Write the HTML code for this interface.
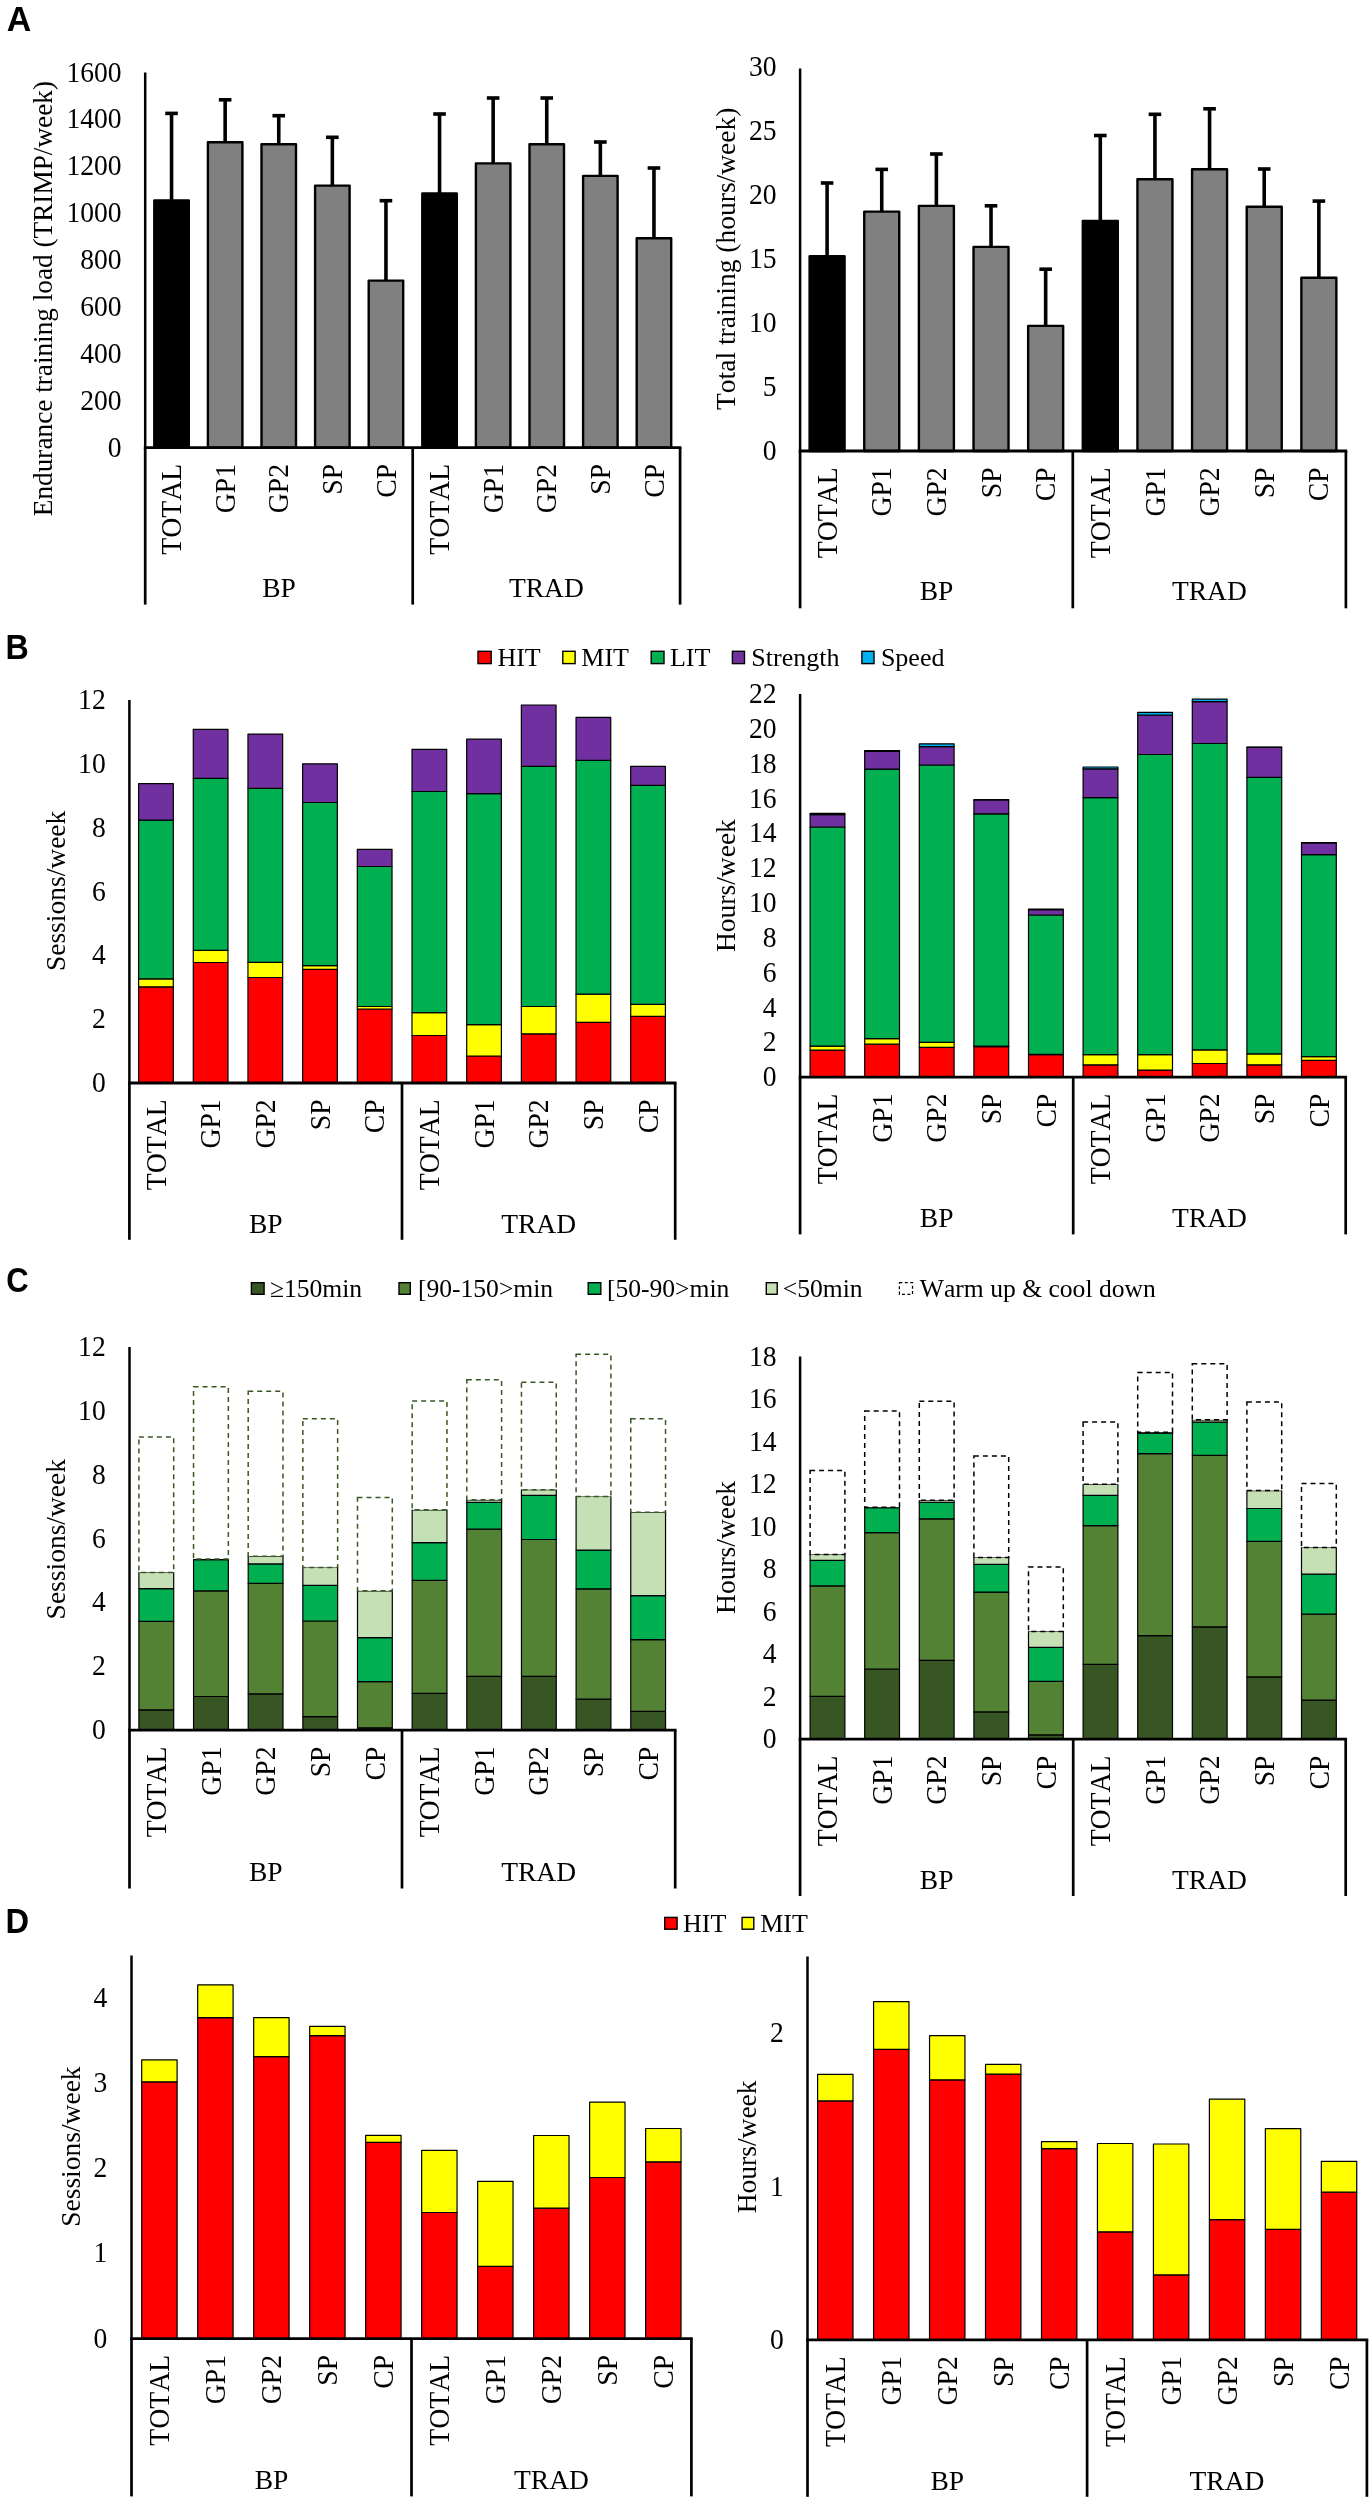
<!DOCTYPE html><html><head><meta charset="utf-8"><title>Figure</title>
<style>html,body{margin:0;padding:0;background:#fff;}svg{display:block;will-change:transform;}.t{font-family:"Liberation Serif",serif;font-size:27.5px;font-kerning:none;fill:#000;}text{font-family:"Liberation Serif",serif;font-kerning:none;fill:#000;}.pl{font-family:"Liberation Sans",sans-serif;font-weight:bold;font-size:34.3px;}</style></head><body>
<svg width="1371" height="2500" viewBox="0 0 1371 2500">
<rect width="1371" height="2500" fill="#fff"/>
<text transform="translate(6.8,30.6) scale(0.99,1)" class="pl">A</text>
<text transform="translate(5.5,658.7) scale(0.938,1)" class="pl">B</text>
<text transform="translate(6.3,1292.3) scale(0.904,1)" class="pl">C</text>
<text transform="translate(5.5,1932.6) scale(0.952,1)" class="pl">D</text>
<line x1="171.55" y1="113.4" x2="171.55" y2="200.5" stroke="#000" stroke-width="3.6"/>
<line x1="165.25" y1="113.4" x2="177.85" y2="113.4" stroke="#000" stroke-width="3.6"/>
<rect x="154.3" y="200.5" width="34.5" height="247.1" fill="#000" stroke="#000" stroke-width="2.4" stroke-linejoin="round"/>
<line x1="225.15" y1="99.8" x2="225.15" y2="142.3" stroke="#000" stroke-width="3.6"/>
<line x1="218.85" y1="99.8" x2="231.45" y2="99.8" stroke="#000" stroke-width="3.6"/>
<rect x="207.9" y="142.3" width="34.5" height="305.3" fill="#808080" stroke="#000" stroke-width="2.4" stroke-linejoin="round"/>
<line x1="278.75" y1="115.7" x2="278.75" y2="144.3" stroke="#000" stroke-width="3.6"/>
<line x1="272.45" y1="115.7" x2="285.05" y2="115.7" stroke="#000" stroke-width="3.6"/>
<rect x="261.5" y="144.3" width="34.5" height="303.3" fill="#808080" stroke="#000" stroke-width="2.4" stroke-linejoin="round"/>
<line x1="332.35" y1="137.3" x2="332.35" y2="185.6" stroke="#000" stroke-width="3.6"/>
<line x1="326.05" y1="137.3" x2="338.65" y2="137.3" stroke="#000" stroke-width="3.6"/>
<rect x="315.1" y="185.6" width="34.5" height="262" fill="#808080" stroke="#000" stroke-width="2.4" stroke-linejoin="round"/>
<line x1="385.95" y1="200.7" x2="385.95" y2="280.6" stroke="#000" stroke-width="3.6"/>
<line x1="379.65" y1="200.7" x2="392.25" y2="200.7" stroke="#000" stroke-width="3.6"/>
<rect x="368.7" y="280.6" width="34.5" height="167" fill="#808080" stroke="#000" stroke-width="2.4" stroke-linejoin="round"/>
<line x1="439.55" y1="114" x2="439.55" y2="193.4" stroke="#000" stroke-width="3.6"/>
<line x1="433.25" y1="114" x2="445.85" y2="114" stroke="#000" stroke-width="3.6"/>
<rect x="422.3" y="193.4" width="34.5" height="254.2" fill="#000" stroke="#000" stroke-width="2.4" stroke-linejoin="round"/>
<line x1="493.15" y1="98" x2="493.15" y2="163.4" stroke="#000" stroke-width="3.6"/>
<line x1="486.85" y1="98" x2="499.45" y2="98" stroke="#000" stroke-width="3.6"/>
<rect x="475.9" y="163.4" width="34.5" height="284.2" fill="#808080" stroke="#000" stroke-width="2.4" stroke-linejoin="round"/>
<line x1="546.75" y1="98" x2="546.75" y2="144.2" stroke="#000" stroke-width="3.6"/>
<line x1="540.45" y1="98" x2="553.05" y2="98" stroke="#000" stroke-width="3.6"/>
<rect x="529.5" y="144.2" width="34.5" height="303.4" fill="#808080" stroke="#000" stroke-width="2.4" stroke-linejoin="round"/>
<line x1="600.35" y1="142" x2="600.35" y2="175.9" stroke="#000" stroke-width="3.6"/>
<line x1="594.05" y1="142" x2="606.65" y2="142" stroke="#000" stroke-width="3.6"/>
<rect x="583.1" y="175.9" width="34.5" height="271.7" fill="#808080" stroke="#000" stroke-width="2.4" stroke-linejoin="round"/>
<line x1="653.95" y1="168" x2="653.95" y2="238.2" stroke="#000" stroke-width="3.6"/>
<line x1="647.65" y1="168" x2="660.25" y2="168" stroke="#000" stroke-width="3.6"/>
<rect x="636.7" y="238.2" width="34.5" height="209.4" fill="#808080" stroke="#000" stroke-width="2.4" stroke-linejoin="round"/>
<line x1="827.1" y1="183" x2="827.1" y2="256.3" stroke="#000" stroke-width="3.6"/>
<line x1="820.8" y1="183" x2="833.4" y2="183" stroke="#000" stroke-width="3.6"/>
<rect x="809.6" y="256.3" width="35" height="194.7" fill="#000" stroke="#000" stroke-width="2.4" stroke-linejoin="round"/>
<line x1="881.74" y1="169.4" x2="881.74" y2="211.6" stroke="#000" stroke-width="3.6"/>
<line x1="875.44" y1="169.4" x2="888.04" y2="169.4" stroke="#000" stroke-width="3.6"/>
<rect x="864.24" y="211.6" width="35" height="239.4" fill="#808080" stroke="#000" stroke-width="2.4" stroke-linejoin="round"/>
<line x1="936.38" y1="154" x2="936.38" y2="205.9" stroke="#000" stroke-width="3.6"/>
<line x1="930.08" y1="154" x2="942.68" y2="154" stroke="#000" stroke-width="3.6"/>
<rect x="918.88" y="205.9" width="35" height="245.1" fill="#808080" stroke="#000" stroke-width="2.4" stroke-linejoin="round"/>
<line x1="991.02" y1="205.8" x2="991.02" y2="246.9" stroke="#000" stroke-width="3.6"/>
<line x1="984.72" y1="205.8" x2="997.32" y2="205.8" stroke="#000" stroke-width="3.6"/>
<rect x="973.52" y="246.9" width="35" height="204.1" fill="#808080" stroke="#000" stroke-width="2.4" stroke-linejoin="round"/>
<line x1="1045.66" y1="269.2" x2="1045.66" y2="325.9" stroke="#000" stroke-width="3.6"/>
<line x1="1039.36" y1="269.2" x2="1051.96" y2="269.2" stroke="#000" stroke-width="3.6"/>
<rect x="1028.16" y="325.9" width="35" height="125.1" fill="#808080" stroke="#000" stroke-width="2.4" stroke-linejoin="round"/>
<line x1="1100.3" y1="135.5" x2="1100.3" y2="220.9" stroke="#000" stroke-width="3.6"/>
<line x1="1094" y1="135.5" x2="1106.6" y2="135.5" stroke="#000" stroke-width="3.6"/>
<rect x="1082.8" y="220.9" width="35" height="230.1" fill="#000" stroke="#000" stroke-width="2.4" stroke-linejoin="round"/>
<line x1="1154.94" y1="114.3" x2="1154.94" y2="179.2" stroke="#000" stroke-width="3.6"/>
<line x1="1148.64" y1="114.3" x2="1161.24" y2="114.3" stroke="#000" stroke-width="3.6"/>
<rect x="1137.44" y="179.2" width="35" height="271.8" fill="#808080" stroke="#000" stroke-width="2.4" stroke-linejoin="round"/>
<line x1="1209.58" y1="108.8" x2="1209.58" y2="169.2" stroke="#000" stroke-width="3.6"/>
<line x1="1203.28" y1="108.8" x2="1215.88" y2="108.8" stroke="#000" stroke-width="3.6"/>
<rect x="1192.08" y="169.2" width="35" height="281.8" fill="#808080" stroke="#000" stroke-width="2.4" stroke-linejoin="round"/>
<line x1="1264.22" y1="169" x2="1264.22" y2="206.8" stroke="#000" stroke-width="3.6"/>
<line x1="1257.92" y1="169" x2="1270.52" y2="169" stroke="#000" stroke-width="3.6"/>
<rect x="1246.72" y="206.8" width="35" height="244.2" fill="#808080" stroke="#000" stroke-width="2.4" stroke-linejoin="round"/>
<line x1="1318.86" y1="201.1" x2="1318.86" y2="277.8" stroke="#000" stroke-width="3.6"/>
<line x1="1312.56" y1="201.1" x2="1325.16" y2="201.1" stroke="#000" stroke-width="3.6"/>
<rect x="1301.36" y="277.8" width="35" height="173.2" fill="#808080" stroke="#000" stroke-width="2.4" stroke-linejoin="round"/>
<line x1="145.2" y1="72.5" x2="145.2" y2="447.6" stroke="#000" stroke-width="2.5"/>
<text transform="translate(121.6,456.6) scale(0.955,1)" text-anchor="end" class="t" style="font-size:28.9px">0</text>
<text transform="translate(121.6,409.71) scale(0.955,1)" text-anchor="end" class="t" style="font-size:28.9px">200</text>
<text transform="translate(121.6,362.83) scale(0.955,1)" text-anchor="end" class="t" style="font-size:28.9px">400</text>
<text transform="translate(121.6,315.94) scale(0.955,1)" text-anchor="end" class="t" style="font-size:28.9px">600</text>
<text transform="translate(121.6,269.05) scale(0.955,1)" text-anchor="end" class="t" style="font-size:28.9px">800</text>
<text transform="translate(121.6,222.16) scale(0.955,1)" text-anchor="end" class="t" style="font-size:28.9px">1000</text>
<text transform="translate(121.6,175.27) scale(0.955,1)" text-anchor="end" class="t" style="font-size:28.9px">1200</text>
<text transform="translate(121.6,128.39) scale(0.955,1)" text-anchor="end" class="t" style="font-size:28.9px">1400</text>
<text transform="translate(121.6,81.5) scale(0.955,1)" text-anchor="end" class="t" style="font-size:28.9px">1600</text>
<text transform="translate(52.2,298.6) rotate(-90)" text-anchor="middle" class="t" style="font-size:27.25px">Endurance training load (TRIMP/week)</text>
<line x1="143.85" y1="447.6" x2="681.45" y2="447.6" stroke="#000" stroke-width="2.8"/>
<line x1="145.2" y1="447.6" x2="145.2" y2="604.6" stroke="#000" stroke-width="2.7"/>
<line x1="412.7" y1="447.6" x2="412.7" y2="604.6" stroke="#000" stroke-width="2.7"/>
<line x1="680.1" y1="447.6" x2="680.1" y2="604.6" stroke="#000" stroke-width="2.7"/>
<text transform="translate(181.15,463.9) rotate(-90) scale(0.97,1)" text-anchor="end" class="t" style="font-size:28.6px">TOTAL</text>
<text transform="translate(234.75,463.9) rotate(-90) scale(0.97,1)" text-anchor="end" class="t" style="font-size:28.6px">GP1</text>
<text transform="translate(288.35,463.9) rotate(-90) scale(0.97,1)" text-anchor="end" class="t" style="font-size:28.6px">GP2</text>
<text transform="translate(341.95,463.9) rotate(-90) scale(0.97,1)" text-anchor="end" class="t" style="font-size:28.6px">SP</text>
<text transform="translate(395.55,463.9) rotate(-90) scale(0.97,1)" text-anchor="end" class="t" style="font-size:28.6px">CP</text>
<text transform="translate(449.15,463.9) rotate(-90) scale(0.97,1)" text-anchor="end" class="t" style="font-size:28.6px">TOTAL</text>
<text transform="translate(502.75,463.9) rotate(-90) scale(0.97,1)" text-anchor="end" class="t" style="font-size:28.6px">GP1</text>
<text transform="translate(556.35,463.9) rotate(-90) scale(0.97,1)" text-anchor="end" class="t" style="font-size:28.6px">GP2</text>
<text transform="translate(609.95,463.9) rotate(-90) scale(0.97,1)" text-anchor="end" class="t" style="font-size:28.6px">SP</text>
<text transform="translate(663.55,463.9) rotate(-90) scale(0.97,1)" text-anchor="end" class="t" style="font-size:28.6px">CP</text>
<text x="278.95" y="597" text-anchor="middle" class="t">BP</text>
<text x="546.4" y="597" text-anchor="middle" class="t">TRAD</text>
<line x1="800.1" y1="68.5" x2="800.1" y2="451" stroke="#000" stroke-width="2.5"/>
<text transform="translate(776.5,460) scale(0.955,1)" text-anchor="end" class="t" style="font-size:28.9px">0</text>
<text transform="translate(776.5,396) scale(0.955,1)" text-anchor="end" class="t" style="font-size:28.9px">5</text>
<text transform="translate(776.5,332) scale(0.955,1)" text-anchor="end" class="t" style="font-size:28.9px">10</text>
<text transform="translate(776.5,268) scale(0.955,1)" text-anchor="end" class="t" style="font-size:28.9px">15</text>
<text transform="translate(776.5,204) scale(0.955,1)" text-anchor="end" class="t" style="font-size:28.9px">20</text>
<text transform="translate(776.5,140) scale(0.955,1)" text-anchor="end" class="t" style="font-size:28.9px">25</text>
<text transform="translate(776.5,76) scale(0.955,1)" text-anchor="end" class="t" style="font-size:28.9px">30</text>
<text transform="translate(734.6,258.8) rotate(-90)" text-anchor="middle" class="t" style="font-size:27.5px">Total training (hours/week)</text>
<line x1="798.75" y1="451" x2="1347.25" y2="451" stroke="#000" stroke-width="2.8"/>
<line x1="800.1" y1="451" x2="800.1" y2="608.3" stroke="#000" stroke-width="2.7"/>
<line x1="1072.8" y1="451" x2="1072.8" y2="608.3" stroke="#000" stroke-width="2.7"/>
<line x1="1345.9" y1="451" x2="1345.9" y2="608.3" stroke="#000" stroke-width="2.7"/>
<text transform="translate(836.7,467.3) rotate(-90) scale(0.97,1)" text-anchor="end" class="t" style="font-size:28.6px">TOTAL</text>
<text transform="translate(891.34,467.3) rotate(-90) scale(0.97,1)" text-anchor="end" class="t" style="font-size:28.6px">GP1</text>
<text transform="translate(945.98,467.3) rotate(-90) scale(0.97,1)" text-anchor="end" class="t" style="font-size:28.6px">GP2</text>
<text transform="translate(1000.62,467.3) rotate(-90) scale(0.97,1)" text-anchor="end" class="t" style="font-size:28.6px">SP</text>
<text transform="translate(1055.26,467.3) rotate(-90) scale(0.97,1)" text-anchor="end" class="t" style="font-size:28.6px">CP</text>
<text transform="translate(1109.9,467.3) rotate(-90) scale(0.97,1)" text-anchor="end" class="t" style="font-size:28.6px">TOTAL</text>
<text transform="translate(1164.54,467.3) rotate(-90) scale(0.97,1)" text-anchor="end" class="t" style="font-size:28.6px">GP1</text>
<text transform="translate(1219.18,467.3) rotate(-90) scale(0.97,1)" text-anchor="end" class="t" style="font-size:28.6px">GP2</text>
<text transform="translate(1273.82,467.3) rotate(-90) scale(0.97,1)" text-anchor="end" class="t" style="font-size:28.6px">SP</text>
<text transform="translate(1328.46,467.3) rotate(-90) scale(0.97,1)" text-anchor="end" class="t" style="font-size:28.6px">CP</text>
<text x="936.45" y="600.2" text-anchor="middle" class="t">BP</text>
<text x="1209.35" y="600.2" text-anchor="middle" class="t">TRAD</text>
<rect x="138.6" y="986.8" width="34.7" height="96.2" fill="#FF0000" stroke="#000" stroke-width="1.2" stroke-linejoin="round"/>
<rect x="138.6" y="978.8" width="34.7" height="8" fill="#FFFF00" stroke="#000" stroke-width="1.2" stroke-linejoin="round"/>
<rect x="138.6" y="820.2" width="34.7" height="158.6" fill="#00B050" stroke="#000" stroke-width="1.2" stroke-linejoin="round"/>
<rect x="138.6" y="783.6" width="34.7" height="36.6" fill="#7030A0" stroke="#000" stroke-width="1.2" stroke-linejoin="round"/>
<rect x="193.28" y="962.5" width="34.7" height="120.5" fill="#FF0000" stroke="#000" stroke-width="1.2" stroke-linejoin="round"/>
<rect x="193.28" y="950.4" width="34.7" height="12.1" fill="#FFFF00" stroke="#000" stroke-width="1.2" stroke-linejoin="round"/>
<rect x="193.28" y="778.4" width="34.7" height="172" fill="#00B050" stroke="#000" stroke-width="1.2" stroke-linejoin="round"/>
<rect x="193.28" y="729.3" width="34.7" height="49.1" fill="#7030A0" stroke="#000" stroke-width="1.2" stroke-linejoin="round"/>
<rect x="247.96" y="977.5" width="34.7" height="105.5" fill="#FF0000" stroke="#000" stroke-width="1.2" stroke-linejoin="round"/>
<rect x="247.96" y="962.3" width="34.7" height="15.2" fill="#FFFF00" stroke="#000" stroke-width="1.2" stroke-linejoin="round"/>
<rect x="247.96" y="788.3" width="34.7" height="174" fill="#00B050" stroke="#000" stroke-width="1.2" stroke-linejoin="round"/>
<rect x="247.96" y="734.1" width="34.7" height="54.2" fill="#7030A0" stroke="#000" stroke-width="1.2" stroke-linejoin="round"/>
<rect x="302.64" y="969.3" width="34.7" height="113.7" fill="#FF0000" stroke="#000" stroke-width="1.2" stroke-linejoin="round"/>
<rect x="302.64" y="965.7" width="34.7" height="3.6" fill="#FFFF00" stroke="#000" stroke-width="1.2" stroke-linejoin="round"/>
<rect x="302.64" y="802.5" width="34.7" height="163.2" fill="#00B050" stroke="#000" stroke-width="1.2" stroke-linejoin="round"/>
<rect x="302.64" y="763.8" width="34.7" height="38.7" fill="#7030A0" stroke="#000" stroke-width="1.2" stroke-linejoin="round"/>
<rect x="357.32" y="1009" width="34.7" height="74" fill="#FF0000" stroke="#000" stroke-width="1.2" stroke-linejoin="round"/>
<rect x="357.32" y="1006.5" width="34.7" height="2.5" fill="#FFFF00" stroke="#000" stroke-width="1.2" stroke-linejoin="round"/>
<rect x="357.32" y="866.5" width="34.7" height="140" fill="#00B050" stroke="#000" stroke-width="1.2" stroke-linejoin="round"/>
<rect x="357.32" y="849.4" width="34.7" height="17.1" fill="#7030A0" stroke="#000" stroke-width="1.2" stroke-linejoin="round"/>
<rect x="412" y="1035.5" width="34.7" height="47.5" fill="#FF0000" stroke="#000" stroke-width="1.2" stroke-linejoin="round"/>
<rect x="412" y="1012.6" width="34.7" height="22.9" fill="#FFFF00" stroke="#000" stroke-width="1.2" stroke-linejoin="round"/>
<rect x="412" y="791.5" width="34.7" height="221.1" fill="#00B050" stroke="#000" stroke-width="1.2" stroke-linejoin="round"/>
<rect x="412" y="749.4" width="34.7" height="42.1" fill="#7030A0" stroke="#000" stroke-width="1.2" stroke-linejoin="round"/>
<rect x="466.68" y="1056" width="34.7" height="27" fill="#FF0000" stroke="#000" stroke-width="1.2" stroke-linejoin="round"/>
<rect x="466.68" y="1024.7" width="34.7" height="31.3" fill="#FFFF00" stroke="#000" stroke-width="1.2" stroke-linejoin="round"/>
<rect x="466.68" y="793.6" width="34.7" height="231.1" fill="#00B050" stroke="#000" stroke-width="1.2" stroke-linejoin="round"/>
<rect x="466.68" y="739.2" width="34.7" height="54.4" fill="#7030A0" stroke="#000" stroke-width="1.2" stroke-linejoin="round"/>
<rect x="521.36" y="1033.8" width="34.7" height="49.2" fill="#FF0000" stroke="#000" stroke-width="1.2" stroke-linejoin="round"/>
<rect x="521.36" y="1006.5" width="34.7" height="27.3" fill="#FFFF00" stroke="#000" stroke-width="1.2" stroke-linejoin="round"/>
<rect x="521.36" y="766.3" width="34.7" height="240.2" fill="#00B050" stroke="#000" stroke-width="1.2" stroke-linejoin="round"/>
<rect x="521.36" y="705" width="34.7" height="61.3" fill="#7030A0" stroke="#000" stroke-width="1.2" stroke-linejoin="round"/>
<rect x="576.04" y="1022.3" width="34.7" height="60.7" fill="#FF0000" stroke="#000" stroke-width="1.2" stroke-linejoin="round"/>
<rect x="576.04" y="994.2" width="34.7" height="28.1" fill="#FFFF00" stroke="#000" stroke-width="1.2" stroke-linejoin="round"/>
<rect x="576.04" y="760.4" width="34.7" height="233.8" fill="#00B050" stroke="#000" stroke-width="1.2" stroke-linejoin="round"/>
<rect x="576.04" y="717.4" width="34.7" height="43" fill="#7030A0" stroke="#000" stroke-width="1.2" stroke-linejoin="round"/>
<rect x="630.72" y="1016.4" width="34.7" height="66.6" fill="#FF0000" stroke="#000" stroke-width="1.2" stroke-linejoin="round"/>
<rect x="630.72" y="1004.4" width="34.7" height="12" fill="#FFFF00" stroke="#000" stroke-width="1.2" stroke-linejoin="round"/>
<rect x="630.72" y="785.3" width="34.7" height="219.1" fill="#00B050" stroke="#000" stroke-width="1.2" stroke-linejoin="round"/>
<rect x="630.72" y="766.3" width="34.7" height="19" fill="#7030A0" stroke="#000" stroke-width="1.2" stroke-linejoin="round"/>
<rect x="810.1" y="1050.1" width="34.8" height="27.1" fill="#FF0000" stroke="#000" stroke-width="1.2" stroke-linejoin="round"/>
<rect x="810.1" y="1046.2" width="34.8" height="3.9" fill="#FFFF00" stroke="#000" stroke-width="1.2" stroke-linejoin="round"/>
<rect x="810.1" y="827" width="34.8" height="219.2" fill="#00B050" stroke="#000" stroke-width="1.2" stroke-linejoin="round"/>
<rect x="810.1" y="814.6" width="34.8" height="12.4" fill="#7030A0" stroke="#000" stroke-width="1.2" stroke-linejoin="round"/>
<rect x="810.1" y="813.4" width="34.8" height="1.2" fill="#00B0F0" stroke="#000" stroke-width="1.2" stroke-linejoin="round"/>
<rect x="864.7" y="1044.2" width="34.8" height="33" fill="#FF0000" stroke="#000" stroke-width="1.2" stroke-linejoin="round"/>
<rect x="864.7" y="1038.7" width="34.8" height="5.5" fill="#FFFF00" stroke="#000" stroke-width="1.2" stroke-linejoin="round"/>
<rect x="864.7" y="769.2" width="34.8" height="269.5" fill="#00B050" stroke="#000" stroke-width="1.2" stroke-linejoin="round"/>
<rect x="864.7" y="751.4" width="34.8" height="17.8" fill="#7030A0" stroke="#000" stroke-width="1.2" stroke-linejoin="round"/>
<rect x="864.7" y="750.6" width="34.8" height="0.8" fill="#00B0F0" stroke="#000" stroke-width="1.2" stroke-linejoin="round"/>
<rect x="919.3" y="1047.4" width="34.8" height="29.8" fill="#FF0000" stroke="#000" stroke-width="1.2" stroke-linejoin="round"/>
<rect x="919.3" y="1042.4" width="34.8" height="5" fill="#FFFF00" stroke="#000" stroke-width="1.2" stroke-linejoin="round"/>
<rect x="919.3" y="765" width="34.8" height="277.4" fill="#00B050" stroke="#000" stroke-width="1.2" stroke-linejoin="round"/>
<rect x="919.3" y="746.6" width="34.8" height="18.4" fill="#7030A0" stroke="#000" stroke-width="1.2" stroke-linejoin="round"/>
<rect x="919.3" y="743.9" width="34.8" height="2.7" fill="#00B0F0" stroke="#000" stroke-width="1.2" stroke-linejoin="round"/>
<rect x="973.9" y="1046.6" width="34.8" height="30.6" fill="#FF0000" stroke="#000" stroke-width="1.2" stroke-linejoin="round"/>
<rect x="973.9" y="1046.2" width="34.8" height="0.4" fill="#FFFF00" stroke="#000" stroke-width="1.2" stroke-linejoin="round"/>
<rect x="973.9" y="813.8" width="34.8" height="232.4" fill="#00B050" stroke="#000" stroke-width="1.2" stroke-linejoin="round"/>
<rect x="973.9" y="800" width="34.8" height="13.8" fill="#7030A0" stroke="#000" stroke-width="1.2" stroke-linejoin="round"/>
<rect x="973.9" y="799.7" width="34.8" height="0.3" fill="#00B0F0" stroke="#000" stroke-width="1.2" stroke-linejoin="round"/>
<rect x="1028.5" y="1054.6" width="34.8" height="22.6" fill="#FF0000" stroke="#000" stroke-width="1.2" stroke-linejoin="round"/>
<rect x="1028.5" y="1054.4" width="34.8" height="0.2" fill="#FFFF00" stroke="#000" stroke-width="1.2" stroke-linejoin="round"/>
<rect x="1028.5" y="915" width="34.8" height="139.4" fill="#00B050" stroke="#000" stroke-width="1.2" stroke-linejoin="round"/>
<rect x="1028.5" y="909.6" width="34.8" height="5.4" fill="#7030A0" stroke="#000" stroke-width="1.2" stroke-linejoin="round"/>
<rect x="1028.5" y="909" width="34.8" height="0.6" fill="#00B0F0" stroke="#000" stroke-width="1.2" stroke-linejoin="round"/>
<rect x="1083.1" y="1064.8" width="34.8" height="12.4" fill="#FF0000" stroke="#000" stroke-width="1.2" stroke-linejoin="round"/>
<rect x="1083.1" y="1054.6" width="34.8" height="10.2" fill="#FFFF00" stroke="#000" stroke-width="1.2" stroke-linejoin="round"/>
<rect x="1083.1" y="797.7" width="34.8" height="256.9" fill="#00B050" stroke="#000" stroke-width="1.2" stroke-linejoin="round"/>
<rect x="1083.1" y="768.9" width="34.8" height="28.8" fill="#7030A0" stroke="#000" stroke-width="1.2" stroke-linejoin="round"/>
<rect x="1083.1" y="767" width="34.8" height="1.9" fill="#00B0F0" stroke="#000" stroke-width="1.2" stroke-linejoin="round"/>
<rect x="1137.7" y="1070.1" width="34.8" height="7.1" fill="#FF0000" stroke="#000" stroke-width="1.2" stroke-linejoin="round"/>
<rect x="1137.7" y="1054.6" width="34.8" height="15.5" fill="#FFFF00" stroke="#000" stroke-width="1.2" stroke-linejoin="round"/>
<rect x="1137.7" y="754.5" width="34.8" height="300.1" fill="#00B050" stroke="#000" stroke-width="1.2" stroke-linejoin="round"/>
<rect x="1137.7" y="715" width="34.8" height="39.5" fill="#7030A0" stroke="#000" stroke-width="1.2" stroke-linejoin="round"/>
<rect x="1137.7" y="712.3" width="34.8" height="2.7" fill="#00B0F0" stroke="#000" stroke-width="1.2" stroke-linejoin="round"/>
<rect x="1192.3" y="1063.5" width="34.8" height="13.7" fill="#FF0000" stroke="#000" stroke-width="1.2" stroke-linejoin="round"/>
<rect x="1192.3" y="1049.8" width="34.8" height="13.7" fill="#FFFF00" stroke="#000" stroke-width="1.2" stroke-linejoin="round"/>
<rect x="1192.3" y="743.5" width="34.8" height="306.3" fill="#00B050" stroke="#000" stroke-width="1.2" stroke-linejoin="round"/>
<rect x="1192.3" y="701.6" width="34.8" height="41.9" fill="#7030A0" stroke="#000" stroke-width="1.2" stroke-linejoin="round"/>
<rect x="1192.3" y="699.2" width="34.8" height="2.4" fill="#00B0F0" stroke="#000" stroke-width="1.2" stroke-linejoin="round"/>
<rect x="1246.9" y="1064.8" width="34.8" height="12.4" fill="#FF0000" stroke="#000" stroke-width="1.2" stroke-linejoin="round"/>
<rect x="1246.9" y="1053.8" width="34.8" height="11" fill="#FFFF00" stroke="#000" stroke-width="1.2" stroke-linejoin="round"/>
<rect x="1246.9" y="777.4" width="34.8" height="276.4" fill="#00B050" stroke="#000" stroke-width="1.2" stroke-linejoin="round"/>
<rect x="1246.9" y="747.4" width="34.8" height="30" fill="#7030A0" stroke="#000" stroke-width="1.2" stroke-linejoin="round"/>
<rect x="1246.9" y="747.1" width="34.8" height="0.3" fill="#00B0F0" stroke="#000" stroke-width="1.2" stroke-linejoin="round"/>
<rect x="1301.5" y="1060.4" width="34.8" height="16.8" fill="#FF0000" stroke="#000" stroke-width="1.2" stroke-linejoin="round"/>
<rect x="1301.5" y="1056.7" width="34.8" height="3.7" fill="#FFFF00" stroke="#000" stroke-width="1.2" stroke-linejoin="round"/>
<rect x="1301.5" y="854.6" width="34.8" height="202.1" fill="#00B050" stroke="#000" stroke-width="1.2" stroke-linejoin="round"/>
<rect x="1301.5" y="842.8" width="34.8" height="11.8" fill="#7030A0" stroke="#000" stroke-width="1.2" stroke-linejoin="round"/>
<rect x="1301.5" y="842.5" width="34.8" height="0.3" fill="#00B0F0" stroke="#000" stroke-width="1.2" stroke-linejoin="round"/>
<line x1="129.4" y1="700" x2="129.4" y2="1083" stroke="#000" stroke-width="2.5"/>
<text transform="translate(105.7,1092) scale(0.955,1)" text-anchor="end" class="t" style="font-size:28.9px">0</text>
<text transform="translate(105.7,1028.17) scale(0.955,1)" text-anchor="end" class="t" style="font-size:28.9px">2</text>
<text transform="translate(105.7,964.33) scale(0.955,1)" text-anchor="end" class="t" style="font-size:28.9px">4</text>
<text transform="translate(105.7,900.5) scale(0.955,1)" text-anchor="end" class="t" style="font-size:28.9px">6</text>
<text transform="translate(105.7,836.67) scale(0.955,1)" text-anchor="end" class="t" style="font-size:28.9px">8</text>
<text transform="translate(105.7,772.83) scale(0.955,1)" text-anchor="end" class="t" style="font-size:28.9px">10</text>
<text transform="translate(105.7,709) scale(0.955,1)" text-anchor="end" class="t" style="font-size:28.9px">12</text>
<text transform="translate(64.6,890.9) rotate(-90)" text-anchor="middle" class="t" style="font-size:27.5px">Sessions/week</text>
<line x1="128.05" y1="1083" x2="676.55" y2="1083" stroke="#000" stroke-width="2.8"/>
<line x1="129.4" y1="1083" x2="129.4" y2="1239.8" stroke="#000" stroke-width="2.7"/>
<line x1="402" y1="1083" x2="402" y2="1239.8" stroke="#000" stroke-width="2.7"/>
<line x1="675.2" y1="1083" x2="675.2" y2="1239.8" stroke="#000" stroke-width="2.7"/>
<text transform="translate(165.55,1099.3) rotate(-90) scale(0.97,1)" text-anchor="end" class="t" style="font-size:28.6px">TOTAL</text>
<text transform="translate(220.23,1099.3) rotate(-90) scale(0.97,1)" text-anchor="end" class="t" style="font-size:28.6px">GP1</text>
<text transform="translate(274.91,1099.3) rotate(-90) scale(0.97,1)" text-anchor="end" class="t" style="font-size:28.6px">GP2</text>
<text transform="translate(329.59,1099.3) rotate(-90) scale(0.97,1)" text-anchor="end" class="t" style="font-size:28.6px">SP</text>
<text transform="translate(384.27,1099.3) rotate(-90) scale(0.97,1)" text-anchor="end" class="t" style="font-size:28.6px">CP</text>
<text transform="translate(438.95,1099.3) rotate(-90) scale(0.97,1)" text-anchor="end" class="t" style="font-size:28.6px">TOTAL</text>
<text transform="translate(493.63,1099.3) rotate(-90) scale(0.97,1)" text-anchor="end" class="t" style="font-size:28.6px">GP1</text>
<text transform="translate(548.31,1099.3) rotate(-90) scale(0.97,1)" text-anchor="end" class="t" style="font-size:28.6px">GP2</text>
<text transform="translate(602.99,1099.3) rotate(-90) scale(0.97,1)" text-anchor="end" class="t" style="font-size:28.6px">SP</text>
<text transform="translate(657.67,1099.3) rotate(-90) scale(0.97,1)" text-anchor="end" class="t" style="font-size:28.6px">CP</text>
<text x="265.7" y="1233" text-anchor="middle" class="t">BP</text>
<text x="538.6" y="1233" text-anchor="middle" class="t">TRAD</text>
<line x1="800.1" y1="694" x2="800.1" y2="1077.2" stroke="#000" stroke-width="2.5"/>
<text transform="translate(776.5,1086.2) scale(0.955,1)" text-anchor="end" class="t" style="font-size:28.9px">0</text>
<text transform="translate(776.5,1051.36) scale(0.955,1)" text-anchor="end" class="t" style="font-size:28.9px">2</text>
<text transform="translate(776.5,1016.53) scale(0.955,1)" text-anchor="end" class="t" style="font-size:28.9px">4</text>
<text transform="translate(776.5,981.69) scale(0.955,1)" text-anchor="end" class="t" style="font-size:28.9px">6</text>
<text transform="translate(776.5,946.85) scale(0.955,1)" text-anchor="end" class="t" style="font-size:28.9px">8</text>
<text transform="translate(776.5,912.02) scale(0.955,1)" text-anchor="end" class="t" style="font-size:28.9px">10</text>
<text transform="translate(776.5,877.18) scale(0.955,1)" text-anchor="end" class="t" style="font-size:28.9px">12</text>
<text transform="translate(776.5,842.35) scale(0.955,1)" text-anchor="end" class="t" style="font-size:28.9px">14</text>
<text transform="translate(776.5,807.51) scale(0.955,1)" text-anchor="end" class="t" style="font-size:28.9px">16</text>
<text transform="translate(776.5,772.67) scale(0.955,1)" text-anchor="end" class="t" style="font-size:28.9px">18</text>
<text transform="translate(776.5,737.84) scale(0.955,1)" text-anchor="end" class="t" style="font-size:28.9px">20</text>
<text transform="translate(776.5,703) scale(0.955,1)" text-anchor="end" class="t" style="font-size:28.9px">22</text>
<text transform="translate(734.6,885.6) rotate(-90)" text-anchor="middle" class="t" style="font-size:27.5px">Hours/week</text>
<line x1="798.75" y1="1077.2" x2="1347.05" y2="1077.2" stroke="#000" stroke-width="2.8"/>
<line x1="800.1" y1="1077.2" x2="800.1" y2="1234.4" stroke="#000" stroke-width="2.7"/>
<line x1="1073.2" y1="1077.2" x2="1073.2" y2="1234.4" stroke="#000" stroke-width="2.7"/>
<line x1="1345.7" y1="1077.2" x2="1345.7" y2="1234.4" stroke="#000" stroke-width="2.7"/>
<text transform="translate(837.1,1093.5) rotate(-90) scale(0.97,1)" text-anchor="end" class="t" style="font-size:28.6px">TOTAL</text>
<text transform="translate(891.7,1093.5) rotate(-90) scale(0.97,1)" text-anchor="end" class="t" style="font-size:28.6px">GP1</text>
<text transform="translate(946.3,1093.5) rotate(-90) scale(0.97,1)" text-anchor="end" class="t" style="font-size:28.6px">GP2</text>
<text transform="translate(1000.9,1093.5) rotate(-90) scale(0.97,1)" text-anchor="end" class="t" style="font-size:28.6px">SP</text>
<text transform="translate(1055.5,1093.5) rotate(-90) scale(0.97,1)" text-anchor="end" class="t" style="font-size:28.6px">CP</text>
<text transform="translate(1110.1,1093.5) rotate(-90) scale(0.97,1)" text-anchor="end" class="t" style="font-size:28.6px">TOTAL</text>
<text transform="translate(1164.7,1093.5) rotate(-90) scale(0.97,1)" text-anchor="end" class="t" style="font-size:28.6px">GP1</text>
<text transform="translate(1219.3,1093.5) rotate(-90) scale(0.97,1)" text-anchor="end" class="t" style="font-size:28.6px">GP2</text>
<text transform="translate(1273.9,1093.5) rotate(-90) scale(0.97,1)" text-anchor="end" class="t" style="font-size:28.6px">SP</text>
<text transform="translate(1328.5,1093.5) rotate(-90) scale(0.97,1)" text-anchor="end" class="t" style="font-size:28.6px">CP</text>
<text x="936.65" y="1227.4" text-anchor="middle" class="t">BP</text>
<text x="1209.45" y="1227.4" text-anchor="middle" class="t">TRAD</text>
<rect x="478" y="651.3" width="13.2" height="12.3" fill="#FF0000" stroke="#000" stroke-width="1.4"/>
<text x="497.4" y="665.5" style="font-size:26px">HIT</text>
<rect x="562.8" y="651.3" width="12.3" height="12.3" fill="#FFFF00" stroke="#000" stroke-width="1.4"/>
<text x="581.3" y="665.5" style="font-size:26px">MIT</text>
<rect x="651.2" y="651.3" width="12.8" height="12.3" fill="#00B050" stroke="#000" stroke-width="1.4"/>
<text x="669.9" y="665.5" style="font-size:26px">LIT</text>
<rect x="732.4" y="651.3" width="12.1" height="12.3" fill="#7030A0" stroke="#000" stroke-width="1.4"/>
<text x="751.3" y="665.5" style="font-size:26px">Strength</text>
<rect x="861.9" y="651.3" width="12.1" height="12.3" fill="#00B0F0" stroke="#000" stroke-width="1.4"/>
<text x="880.9" y="665.5" style="font-size:26px">Speed</text>
<rect x="138.9" y="1709.8" width="34.8" height="20.4" fill="#375623" stroke="#000" stroke-width="1.2" stroke-linejoin="round"/>
<rect x="138.9" y="1621.4" width="34.8" height="88.4" fill="#548235" stroke="#000" stroke-width="1.2" stroke-linejoin="round"/>
<rect x="138.9" y="1588.6" width="34.8" height="32.8" fill="#00B050" stroke="#000" stroke-width="1.2" stroke-linejoin="round"/>
<rect x="138.9" y="1572.4" width="34.8" height="16.2" fill="#C5E0B4" stroke="#000" stroke-width="1.2" stroke-linejoin="round"/>
<rect x="138.9" y="1437" width="34.8" height="135.4" fill="#fff" stroke="#385723" stroke-width="1.5" stroke-dasharray="5 4"/>
<rect x="193.55" y="1696.5" width="34.8" height="33.7" fill="#375623" stroke="#000" stroke-width="1.2" stroke-linejoin="round"/>
<rect x="193.55" y="1590.8" width="34.8" height="105.7" fill="#548235" stroke="#000" stroke-width="1.2" stroke-linejoin="round"/>
<rect x="193.55" y="1559.6" width="34.8" height="31.2" fill="#00B050" stroke="#000" stroke-width="1.2" stroke-linejoin="round"/>
<rect x="193.55" y="1559" width="34.8" height="0.6" fill="#C5E0B4" stroke="#000" stroke-width="1.2" stroke-linejoin="round"/>
<rect x="193.55" y="1386.7" width="34.8" height="172.3" fill="#fff" stroke="#385723" stroke-width="1.5" stroke-dasharray="5 4"/>
<rect x="248.2" y="1693.8" width="34.8" height="36.4" fill="#375623" stroke="#000" stroke-width="1.2" stroke-linejoin="round"/>
<rect x="248.2" y="1583.4" width="34.8" height="110.4" fill="#548235" stroke="#000" stroke-width="1.2" stroke-linejoin="round"/>
<rect x="248.2" y="1563.9" width="34.8" height="19.5" fill="#00B050" stroke="#000" stroke-width="1.2" stroke-linejoin="round"/>
<rect x="248.2" y="1556.3" width="34.8" height="7.6" fill="#C5E0B4" stroke="#000" stroke-width="1.2" stroke-linejoin="round"/>
<rect x="248.2" y="1391.2" width="34.8" height="165.1" fill="#fff" stroke="#385723" stroke-width="1.5" stroke-dasharray="5 4"/>
<rect x="302.85" y="1716.6" width="34.8" height="13.6" fill="#375623" stroke="#000" stroke-width="1.2" stroke-linejoin="round"/>
<rect x="302.85" y="1621" width="34.8" height="95.6" fill="#548235" stroke="#000" stroke-width="1.2" stroke-linejoin="round"/>
<rect x="302.85" y="1585.3" width="34.8" height="35.7" fill="#00B050" stroke="#000" stroke-width="1.2" stroke-linejoin="round"/>
<rect x="302.85" y="1567.5" width="34.8" height="17.8" fill="#C5E0B4" stroke="#000" stroke-width="1.2" stroke-linejoin="round"/>
<rect x="302.85" y="1418.7" width="34.8" height="148.8" fill="#fff" stroke="#385723" stroke-width="1.5" stroke-dasharray="5 4"/>
<rect x="357.5" y="1727.8" width="34.8" height="2.4" fill="#375623" stroke="#000" stroke-width="1.2" stroke-linejoin="round"/>
<rect x="357.5" y="1681.7" width="34.8" height="46.1" fill="#548235" stroke="#000" stroke-width="1.2" stroke-linejoin="round"/>
<rect x="357.5" y="1637.7" width="34.8" height="44" fill="#00B050" stroke="#000" stroke-width="1.2" stroke-linejoin="round"/>
<rect x="357.5" y="1590.8" width="34.8" height="46.9" fill="#C5E0B4" stroke="#000" stroke-width="1.2" stroke-linejoin="round"/>
<rect x="357.5" y="1497.4" width="34.8" height="93.4" fill="#fff" stroke="#385723" stroke-width="1.5" stroke-dasharray="5 4"/>
<rect x="412.15" y="1693.3" width="34.8" height="36.9" fill="#375623" stroke="#000" stroke-width="1.2" stroke-linejoin="round"/>
<rect x="412.15" y="1580.3" width="34.8" height="113" fill="#548235" stroke="#000" stroke-width="1.2" stroke-linejoin="round"/>
<rect x="412.15" y="1542.7" width="34.8" height="37.6" fill="#00B050" stroke="#000" stroke-width="1.2" stroke-linejoin="round"/>
<rect x="412.15" y="1509.8" width="34.8" height="32.9" fill="#C5E0B4" stroke="#000" stroke-width="1.2" stroke-linejoin="round"/>
<rect x="412.15" y="1400.9" width="34.8" height="108.9" fill="#fff" stroke="#385723" stroke-width="1.5" stroke-dasharray="5 4"/>
<rect x="466.8" y="1676.4" width="34.8" height="53.8" fill="#375623" stroke="#000" stroke-width="1.2" stroke-linejoin="round"/>
<rect x="466.8" y="1529.2" width="34.8" height="147.2" fill="#548235" stroke="#000" stroke-width="1.2" stroke-linejoin="round"/>
<rect x="466.8" y="1502.4" width="34.8" height="26.8" fill="#00B050" stroke="#000" stroke-width="1.2" stroke-linejoin="round"/>
<rect x="466.8" y="1499.8" width="34.8" height="2.6" fill="#C5E0B4" stroke="#000" stroke-width="1.2" stroke-linejoin="round"/>
<rect x="466.8" y="1379.7" width="34.8" height="120.1" fill="#fff" stroke="#385723" stroke-width="1.5" stroke-dasharray="5 4"/>
<rect x="521.45" y="1676.4" width="34.8" height="53.8" fill="#375623" stroke="#000" stroke-width="1.2" stroke-linejoin="round"/>
<rect x="521.45" y="1539.5" width="34.8" height="136.9" fill="#548235" stroke="#000" stroke-width="1.2" stroke-linejoin="round"/>
<rect x="521.45" y="1495.4" width="34.8" height="44.1" fill="#00B050" stroke="#000" stroke-width="1.2" stroke-linejoin="round"/>
<rect x="521.45" y="1489.7" width="34.8" height="5.7" fill="#C5E0B4" stroke="#000" stroke-width="1.2" stroke-linejoin="round"/>
<rect x="521.45" y="1382.2" width="34.8" height="107.5" fill="#fff" stroke="#385723" stroke-width="1.5" stroke-dasharray="5 4"/>
<rect x="576.1" y="1699.2" width="34.8" height="31" fill="#375623" stroke="#000" stroke-width="1.2" stroke-linejoin="round"/>
<rect x="576.1" y="1588.8" width="34.8" height="110.4" fill="#548235" stroke="#000" stroke-width="1.2" stroke-linejoin="round"/>
<rect x="576.1" y="1550.1" width="34.8" height="38.7" fill="#00B050" stroke="#000" stroke-width="1.2" stroke-linejoin="round"/>
<rect x="576.1" y="1496.5" width="34.8" height="53.6" fill="#C5E0B4" stroke="#000" stroke-width="1.2" stroke-linejoin="round"/>
<rect x="576.1" y="1354.3" width="34.8" height="142.2" fill="#fff" stroke="#385723" stroke-width="1.5" stroke-dasharray="5 4"/>
<rect x="630.75" y="1711.3" width="34.8" height="18.9" fill="#375623" stroke="#000" stroke-width="1.2" stroke-linejoin="round"/>
<rect x="630.75" y="1639.6" width="34.8" height="71.7" fill="#548235" stroke="#000" stroke-width="1.2" stroke-linejoin="round"/>
<rect x="630.75" y="1595.6" width="34.8" height="44" fill="#00B050" stroke="#000" stroke-width="1.2" stroke-linejoin="round"/>
<rect x="630.75" y="1512.3" width="34.8" height="83.3" fill="#C5E0B4" stroke="#000" stroke-width="1.2" stroke-linejoin="round"/>
<rect x="630.75" y="1418.8" width="34.8" height="93.5" fill="#fff" stroke="#385723" stroke-width="1.5" stroke-dasharray="5 4"/>
<rect x="810.1" y="1696.3" width="34.8" height="42.9" fill="#375623" stroke="#000" stroke-width="1.2" stroke-linejoin="round"/>
<rect x="810.1" y="1585.9" width="34.8" height="110.4" fill="#548235" stroke="#000" stroke-width="1.2" stroke-linejoin="round"/>
<rect x="810.1" y="1560.3" width="34.8" height="25.6" fill="#00B050" stroke="#000" stroke-width="1.2" stroke-linejoin="round"/>
<rect x="810.1" y="1554.4" width="34.8" height="5.9" fill="#C5E0B4" stroke="#000" stroke-width="1.2" stroke-linejoin="round"/>
<rect x="810.1" y="1470.5" width="34.8" height="83.9" fill="#fff" stroke="#000" stroke-width="1.5" stroke-dasharray="5 4"/>
<rect x="864.7" y="1669" width="34.8" height="70.2" fill="#375623" stroke="#000" stroke-width="1.2" stroke-linejoin="round"/>
<rect x="864.7" y="1532.6" width="34.8" height="136.4" fill="#548235" stroke="#000" stroke-width="1.2" stroke-linejoin="round"/>
<rect x="864.7" y="1507.7" width="34.8" height="24.9" fill="#00B050" stroke="#000" stroke-width="1.2" stroke-linejoin="round"/>
<rect x="864.7" y="1507.2" width="34.8" height="0.5" fill="#C5E0B4" stroke="#000" stroke-width="1.2" stroke-linejoin="round"/>
<rect x="864.7" y="1411" width="34.8" height="96.2" fill="#fff" stroke="#000" stroke-width="1.5" stroke-dasharray="5 4"/>
<rect x="919.3" y="1660.3" width="34.8" height="78.9" fill="#375623" stroke="#000" stroke-width="1.2" stroke-linejoin="round"/>
<rect x="919.3" y="1518.9" width="34.8" height="141.4" fill="#548235" stroke="#000" stroke-width="1.2" stroke-linejoin="round"/>
<rect x="919.3" y="1502.3" width="34.8" height="16.6" fill="#00B050" stroke="#000" stroke-width="1.2" stroke-linejoin="round"/>
<rect x="919.3" y="1500.3" width="34.8" height="2" fill="#C5E0B4" stroke="#000" stroke-width="1.2" stroke-linejoin="round"/>
<rect x="919.3" y="1401.3" width="34.8" height="99" fill="#fff" stroke="#000" stroke-width="1.5" stroke-dasharray="5 4"/>
<rect x="973.9" y="1711.9" width="34.8" height="27.3" fill="#375623" stroke="#000" stroke-width="1.2" stroke-linejoin="round"/>
<rect x="973.9" y="1592.1" width="34.8" height="119.8" fill="#548235" stroke="#000" stroke-width="1.2" stroke-linejoin="round"/>
<rect x="973.9" y="1564.3" width="34.8" height="27.8" fill="#00B050" stroke="#000" stroke-width="1.2" stroke-linejoin="round"/>
<rect x="973.9" y="1557.4" width="34.8" height="6.9" fill="#C5E0B4" stroke="#000" stroke-width="1.2" stroke-linejoin="round"/>
<rect x="973.9" y="1455.9" width="34.8" height="101.5" fill="#fff" stroke="#000" stroke-width="1.5" stroke-dasharray="5 4"/>
<rect x="1028.5" y="1734.8" width="34.8" height="4.4" fill="#375623" stroke="#000" stroke-width="1.2" stroke-linejoin="round"/>
<rect x="1028.5" y="1681.4" width="34.8" height="53.4" fill="#548235" stroke="#000" stroke-width="1.2" stroke-linejoin="round"/>
<rect x="1028.5" y="1647.4" width="34.8" height="34" fill="#00B050" stroke="#000" stroke-width="1.2" stroke-linejoin="round"/>
<rect x="1028.5" y="1631.4" width="34.8" height="16" fill="#C5E0B4" stroke="#000" stroke-width="1.2" stroke-linejoin="round"/>
<rect x="1028.5" y="1567.1" width="34.8" height="64.3" fill="#fff" stroke="#000" stroke-width="1.5" stroke-dasharray="5 4"/>
<rect x="1083.1" y="1664.3" width="34.8" height="74.9" fill="#375623" stroke="#000" stroke-width="1.2" stroke-linejoin="round"/>
<rect x="1083.1" y="1525.6" width="34.8" height="138.7" fill="#548235" stroke="#000" stroke-width="1.2" stroke-linejoin="round"/>
<rect x="1083.1" y="1495.3" width="34.8" height="30.3" fill="#00B050" stroke="#000" stroke-width="1.2" stroke-linejoin="round"/>
<rect x="1083.1" y="1484.3" width="34.8" height="11" fill="#C5E0B4" stroke="#000" stroke-width="1.2" stroke-linejoin="round"/>
<rect x="1083.1" y="1422.1" width="34.8" height="62.2" fill="#fff" stroke="#000" stroke-width="1.5" stroke-dasharray="5 4"/>
<rect x="1137.7" y="1635.6" width="34.8" height="103.6" fill="#375623" stroke="#000" stroke-width="1.2" stroke-linejoin="round"/>
<rect x="1137.7" y="1453.7" width="34.8" height="181.9" fill="#548235" stroke="#000" stroke-width="1.2" stroke-linejoin="round"/>
<rect x="1137.7" y="1433.2" width="34.8" height="20.5" fill="#00B050" stroke="#000" stroke-width="1.2" stroke-linejoin="round"/>
<rect x="1137.7" y="1432.2" width="34.8" height="1" fill="#C5E0B4" stroke="#000" stroke-width="1.2" stroke-linejoin="round"/>
<rect x="1137.7" y="1372.4" width="34.8" height="59.8" fill="#fff" stroke="#000" stroke-width="1.5" stroke-dasharray="5 4"/>
<rect x="1192.3" y="1626.9" width="34.8" height="112.3" fill="#375623" stroke="#000" stroke-width="1.2" stroke-linejoin="round"/>
<rect x="1192.3" y="1455.3" width="34.8" height="171.6" fill="#548235" stroke="#000" stroke-width="1.2" stroke-linejoin="round"/>
<rect x="1192.3" y="1422.1" width="34.8" height="33.2" fill="#00B050" stroke="#000" stroke-width="1.2" stroke-linejoin="round"/>
<rect x="1192.3" y="1419.8" width="34.8" height="2.3" fill="#C5E0B4" stroke="#000" stroke-width="1.2" stroke-linejoin="round"/>
<rect x="1192.3" y="1363.7" width="34.8" height="56.1" fill="#fff" stroke="#000" stroke-width="1.5" stroke-dasharray="5 4"/>
<rect x="1246.9" y="1676.9" width="34.8" height="62.3" fill="#375623" stroke="#000" stroke-width="1.2" stroke-linejoin="round"/>
<rect x="1246.9" y="1541.4" width="34.8" height="135.5" fill="#548235" stroke="#000" stroke-width="1.2" stroke-linejoin="round"/>
<rect x="1246.9" y="1508.5" width="34.8" height="32.9" fill="#00B050" stroke="#000" stroke-width="1.2" stroke-linejoin="round"/>
<rect x="1246.9" y="1490.6" width="34.8" height="17.9" fill="#C5E0B4" stroke="#000" stroke-width="1.2" stroke-linejoin="round"/>
<rect x="1246.9" y="1402.1" width="34.8" height="88.5" fill="#fff" stroke="#000" stroke-width="1.5" stroke-dasharray="5 4"/>
<rect x="1301.5" y="1700.1" width="34.8" height="39.1" fill="#375623" stroke="#000" stroke-width="1.2" stroke-linejoin="round"/>
<rect x="1301.5" y="1614.2" width="34.8" height="85.9" fill="#548235" stroke="#000" stroke-width="1.2" stroke-linejoin="round"/>
<rect x="1301.5" y="1574.2" width="34.8" height="40" fill="#00B050" stroke="#000" stroke-width="1.2" stroke-linejoin="round"/>
<rect x="1301.5" y="1547.4" width="34.8" height="26.8" fill="#C5E0B4" stroke="#000" stroke-width="1.2" stroke-linejoin="round"/>
<rect x="1301.5" y="1483.5" width="34.8" height="63.9" fill="#fff" stroke="#000" stroke-width="1.5" stroke-dasharray="5 4"/>
<line x1="129.5" y1="1347" x2="129.5" y2="1730.2" stroke="#000" stroke-width="2.5"/>
<text transform="translate(105.7,1739.2) scale(0.955,1)" text-anchor="end" class="t" style="font-size:28.9px">0</text>
<text transform="translate(105.7,1675.33) scale(0.955,1)" text-anchor="end" class="t" style="font-size:28.9px">2</text>
<text transform="translate(105.7,1611.47) scale(0.955,1)" text-anchor="end" class="t" style="font-size:28.9px">4</text>
<text transform="translate(105.7,1547.6) scale(0.955,1)" text-anchor="end" class="t" style="font-size:28.9px">6</text>
<text transform="translate(105.7,1483.73) scale(0.955,1)" text-anchor="end" class="t" style="font-size:28.9px">8</text>
<text transform="translate(105.7,1419.87) scale(0.955,1)" text-anchor="end" class="t" style="font-size:28.9px">10</text>
<text transform="translate(105.7,1356) scale(0.955,1)" text-anchor="end" class="t" style="font-size:28.9px">12</text>
<text transform="translate(64.6,1539.2) rotate(-90)" text-anchor="middle" class="t" style="font-size:27.5px">Sessions/week</text>
<line x1="128.15" y1="1730.2" x2="676.55" y2="1730.2" stroke="#000" stroke-width="2.8"/>
<line x1="129.5" y1="1730.2" x2="129.5" y2="1888.5" stroke="#000" stroke-width="2.7"/>
<line x1="402" y1="1730.2" x2="402" y2="1888.5" stroke="#000" stroke-width="2.7"/>
<line x1="675.2" y1="1730.2" x2="675.2" y2="1888.5" stroke="#000" stroke-width="2.7"/>
<text transform="translate(165.9,1746.5) rotate(-90) scale(0.97,1)" text-anchor="end" class="t" style="font-size:28.6px">TOTAL</text>
<text transform="translate(220.55,1746.5) rotate(-90) scale(0.97,1)" text-anchor="end" class="t" style="font-size:28.6px">GP1</text>
<text transform="translate(275.2,1746.5) rotate(-90) scale(0.97,1)" text-anchor="end" class="t" style="font-size:28.6px">GP2</text>
<text transform="translate(329.85,1746.5) rotate(-90) scale(0.97,1)" text-anchor="end" class="t" style="font-size:28.6px">SP</text>
<text transform="translate(384.5,1746.5) rotate(-90) scale(0.97,1)" text-anchor="end" class="t" style="font-size:28.6px">CP</text>
<text transform="translate(439.15,1746.5) rotate(-90) scale(0.97,1)" text-anchor="end" class="t" style="font-size:28.6px">TOTAL</text>
<text transform="translate(493.8,1746.5) rotate(-90) scale(0.97,1)" text-anchor="end" class="t" style="font-size:28.6px">GP1</text>
<text transform="translate(548.45,1746.5) rotate(-90) scale(0.97,1)" text-anchor="end" class="t" style="font-size:28.6px">GP2</text>
<text transform="translate(603.1,1746.5) rotate(-90) scale(0.97,1)" text-anchor="end" class="t" style="font-size:28.6px">SP</text>
<text transform="translate(657.75,1746.5) rotate(-90) scale(0.97,1)" text-anchor="end" class="t" style="font-size:28.6px">CP</text>
<text x="265.75" y="1880.8" text-anchor="middle" class="t">BP</text>
<text x="538.6" y="1880.8" text-anchor="middle" class="t">TRAD</text>
<line x1="800.1" y1="1356.5" x2="800.1" y2="1739.2" stroke="#000" stroke-width="2.5"/>
<text transform="translate(776.5,1748.2) scale(0.955,1)" text-anchor="end" class="t" style="font-size:28.9px">0</text>
<text transform="translate(776.5,1705.68) scale(0.955,1)" text-anchor="end" class="t" style="font-size:28.9px">2</text>
<text transform="translate(776.5,1663.16) scale(0.955,1)" text-anchor="end" class="t" style="font-size:28.9px">4</text>
<text transform="translate(776.5,1620.63) scale(0.955,1)" text-anchor="end" class="t" style="font-size:28.9px">6</text>
<text transform="translate(776.5,1578.11) scale(0.955,1)" text-anchor="end" class="t" style="font-size:28.9px">8</text>
<text transform="translate(776.5,1535.59) scale(0.955,1)" text-anchor="end" class="t" style="font-size:28.9px">10</text>
<text transform="translate(776.5,1493.07) scale(0.955,1)" text-anchor="end" class="t" style="font-size:28.9px">12</text>
<text transform="translate(776.5,1450.54) scale(0.955,1)" text-anchor="end" class="t" style="font-size:28.9px">14</text>
<text transform="translate(776.5,1408.02) scale(0.955,1)" text-anchor="end" class="t" style="font-size:28.9px">16</text>
<text transform="translate(776.5,1365.5) scale(0.955,1)" text-anchor="end" class="t" style="font-size:28.9px">18</text>
<text transform="translate(734.6,1547.5) rotate(-90)" text-anchor="middle" class="t" style="font-size:27.5px">Hours/week</text>
<line x1="798.75" y1="1739.2" x2="1347.05" y2="1739.2" stroke="#000" stroke-width="2.8"/>
<line x1="800.1" y1="1739.2" x2="800.1" y2="1896" stroke="#000" stroke-width="2.7"/>
<line x1="1073.2" y1="1739.2" x2="1073.2" y2="1896" stroke="#000" stroke-width="2.7"/>
<line x1="1345.7" y1="1739.2" x2="1345.7" y2="1896" stroke="#000" stroke-width="2.7"/>
<text transform="translate(837.1,1755.5) rotate(-90) scale(0.97,1)" text-anchor="end" class="t" style="font-size:28.6px">TOTAL</text>
<text transform="translate(891.7,1755.5) rotate(-90) scale(0.97,1)" text-anchor="end" class="t" style="font-size:28.6px">GP1</text>
<text transform="translate(946.3,1755.5) rotate(-90) scale(0.97,1)" text-anchor="end" class="t" style="font-size:28.6px">GP2</text>
<text transform="translate(1000.9,1755.5) rotate(-90) scale(0.97,1)" text-anchor="end" class="t" style="font-size:28.6px">SP</text>
<text transform="translate(1055.5,1755.5) rotate(-90) scale(0.97,1)" text-anchor="end" class="t" style="font-size:28.6px">CP</text>
<text transform="translate(1110.1,1755.5) rotate(-90) scale(0.97,1)" text-anchor="end" class="t" style="font-size:28.6px">TOTAL</text>
<text transform="translate(1164.7,1755.5) rotate(-90) scale(0.97,1)" text-anchor="end" class="t" style="font-size:28.6px">GP1</text>
<text transform="translate(1219.3,1755.5) rotate(-90) scale(0.97,1)" text-anchor="end" class="t" style="font-size:28.6px">GP2</text>
<text transform="translate(1273.9,1755.5) rotate(-90) scale(0.97,1)" text-anchor="end" class="t" style="font-size:28.6px">SP</text>
<text transform="translate(1328.5,1755.5) rotate(-90) scale(0.97,1)" text-anchor="end" class="t" style="font-size:28.6px">CP</text>
<text x="936.65" y="1889" text-anchor="middle" class="t">BP</text>
<text x="1209.45" y="1889" text-anchor="middle" class="t">TRAD</text>
<rect x="251.4" y="1282.7" width="12.7" height="11.6" fill="#375623" stroke="#000" stroke-width="1.4"/>
<text x="269.9" y="1297.3" style="font-size:25.6px">≥150min</text>
<rect x="399" y="1282.7" width="11.3" height="11.6" fill="#548235" stroke="#000" stroke-width="1.4"/>
<text x="417.9" y="1297.3" style="font-size:25.6px">[90-150&gt;min</text>
<rect x="588.2" y="1282.7" width="12.6" height="11.6" fill="#00B050" stroke="#000" stroke-width="1.4"/>
<text x="606.9" y="1297.3" style="font-size:25.6px">[50-90&gt;min</text>
<rect x="766.3" y="1282.7" width="10.9" height="11.6" fill="#C5E0B4" stroke="#000" stroke-width="1.4"/>
<text x="782.8" y="1297.3" style="font-size:25.6px">&lt;50min</text>
<rect x="899.4" y="1282.6" width="13.1" height="11.8" fill="#fff" stroke="#000" stroke-width="1.2" stroke-dasharray="3 2.4"/>
<text x="919.8" y="1297.3" style="font-size:25.6px">Warm up &amp; cool down</text>
<rect x="141.7" y="2081.8" width="35.4" height="256.8" fill="#FF0000" stroke="#000" stroke-width="1.2" stroke-linejoin="round"/>
<rect x="141.7" y="2059.9" width="35.4" height="21.9" fill="#FFFF00" stroke="#000" stroke-width="1.2" stroke-linejoin="round"/>
<rect x="197.69" y="2017.7" width="35.4" height="320.9" fill="#FF0000" stroke="#000" stroke-width="1.2" stroke-linejoin="round"/>
<rect x="197.69" y="1984.9" width="35.4" height="32.8" fill="#FFFF00" stroke="#000" stroke-width="1.2" stroke-linejoin="round"/>
<rect x="253.68" y="2056.6" width="35.4" height="282" fill="#FF0000" stroke="#000" stroke-width="1.2" stroke-linejoin="round"/>
<rect x="253.68" y="2017.7" width="35.4" height="38.9" fill="#FFFF00" stroke="#000" stroke-width="1.2" stroke-linejoin="round"/>
<rect x="309.67" y="2035.6" width="35.4" height="303" fill="#FF0000" stroke="#000" stroke-width="1.2" stroke-linejoin="round"/>
<rect x="309.67" y="2026.4" width="35.4" height="9.2" fill="#FFFF00" stroke="#000" stroke-width="1.2" stroke-linejoin="round"/>
<rect x="365.66" y="2142.4" width="35.4" height="196.2" fill="#FF0000" stroke="#000" stroke-width="1.2" stroke-linejoin="round"/>
<rect x="365.66" y="2135.4" width="35.4" height="7" fill="#FFFF00" stroke="#000" stroke-width="1.2" stroke-linejoin="round"/>
<rect x="421.65" y="2212.5" width="35.4" height="126.1" fill="#FF0000" stroke="#000" stroke-width="1.2" stroke-linejoin="round"/>
<rect x="421.65" y="2150.4" width="35.4" height="62.1" fill="#FFFF00" stroke="#000" stroke-width="1.2" stroke-linejoin="round"/>
<rect x="477.64" y="2266.3" width="35.4" height="72.3" fill="#FF0000" stroke="#000" stroke-width="1.2" stroke-linejoin="round"/>
<rect x="477.64" y="2181.4" width="35.4" height="84.9" fill="#FFFF00" stroke="#000" stroke-width="1.2" stroke-linejoin="round"/>
<rect x="533.63" y="2208.1" width="35.4" height="130.5" fill="#FF0000" stroke="#000" stroke-width="1.2" stroke-linejoin="round"/>
<rect x="533.63" y="2135.5" width="35.4" height="72.6" fill="#FFFF00" stroke="#000" stroke-width="1.2" stroke-linejoin="round"/>
<rect x="589.62" y="2177.5" width="35.4" height="161.1" fill="#FF0000" stroke="#000" stroke-width="1.2" stroke-linejoin="round"/>
<rect x="589.62" y="2102.2" width="35.4" height="75.3" fill="#FFFF00" stroke="#000" stroke-width="1.2" stroke-linejoin="round"/>
<rect x="645.61" y="2161.8" width="35.4" height="176.8" fill="#FF0000" stroke="#000" stroke-width="1.2" stroke-linejoin="round"/>
<rect x="645.61" y="2128.5" width="35.4" height="33.3" fill="#FFFF00" stroke="#000" stroke-width="1.2" stroke-linejoin="round"/>
<rect x="817.6" y="2100.9" width="35.4" height="239" fill="#FF0000" stroke="#000" stroke-width="1.2" stroke-linejoin="round"/>
<rect x="817.6" y="2074.4" width="35.4" height="26.5" fill="#FFFF00" stroke="#000" stroke-width="1.2" stroke-linejoin="round"/>
<rect x="873.57" y="2049.3" width="35.4" height="290.6" fill="#FF0000" stroke="#000" stroke-width="1.2" stroke-linejoin="round"/>
<rect x="873.57" y="2001.7" width="35.4" height="47.6" fill="#FFFF00" stroke="#000" stroke-width="1.2" stroke-linejoin="round"/>
<rect x="929.54" y="2079.8" width="35.4" height="260.1" fill="#FF0000" stroke="#000" stroke-width="1.2" stroke-linejoin="round"/>
<rect x="929.54" y="2035.7" width="35.4" height="44.1" fill="#FFFF00" stroke="#000" stroke-width="1.2" stroke-linejoin="round"/>
<rect x="985.51" y="2074.1" width="35.4" height="265.8" fill="#FF0000" stroke="#000" stroke-width="1.2" stroke-linejoin="round"/>
<rect x="985.51" y="2064.4" width="35.4" height="9.7" fill="#FFFF00" stroke="#000" stroke-width="1.2" stroke-linejoin="round"/>
<rect x="1041.48" y="2148.6" width="35.4" height="191.3" fill="#FF0000" stroke="#000" stroke-width="1.2" stroke-linejoin="round"/>
<rect x="1041.48" y="2141.7" width="35.4" height="6.9" fill="#FFFF00" stroke="#000" stroke-width="1.2" stroke-linejoin="round"/>
<rect x="1097.45" y="2231.8" width="35.4" height="108.1" fill="#FF0000" stroke="#000" stroke-width="1.2" stroke-linejoin="round"/>
<rect x="1097.45" y="2143.5" width="35.4" height="88.3" fill="#FFFF00" stroke="#000" stroke-width="1.2" stroke-linejoin="round"/>
<rect x="1153.42" y="2274.9" width="35.4" height="65" fill="#FF0000" stroke="#000" stroke-width="1.2" stroke-linejoin="round"/>
<rect x="1153.42" y="2144" width="35.4" height="130.9" fill="#FFFF00" stroke="#000" stroke-width="1.2" stroke-linejoin="round"/>
<rect x="1209.39" y="2219.6" width="35.4" height="120.3" fill="#FF0000" stroke="#000" stroke-width="1.2" stroke-linejoin="round"/>
<rect x="1209.39" y="2099.2" width="35.4" height="120.4" fill="#FFFF00" stroke="#000" stroke-width="1.2" stroke-linejoin="round"/>
<rect x="1265.36" y="2229.3" width="35.4" height="110.6" fill="#FF0000" stroke="#000" stroke-width="1.2" stroke-linejoin="round"/>
<rect x="1265.36" y="2128.6" width="35.4" height="100.7" fill="#FFFF00" stroke="#000" stroke-width="1.2" stroke-linejoin="round"/>
<rect x="1321.33" y="2192.2" width="35.4" height="147.7" fill="#FF0000" stroke="#000" stroke-width="1.2" stroke-linejoin="round"/>
<rect x="1321.33" y="2161.4" width="35.4" height="30.8" fill="#FFFF00" stroke="#000" stroke-width="1.2" stroke-linejoin="round"/>
<line x1="131.5" y1="1955.5" x2="131.5" y2="2338.6" stroke="#000" stroke-width="2.5"/>
<text transform="translate(107.2,2347.6) scale(0.955,1)" text-anchor="end" class="t" style="font-size:28.9px">0</text>
<text transform="translate(107.2,2262.47) scale(0.955,1)" text-anchor="end" class="t" style="font-size:28.9px">1</text>
<text transform="translate(107.2,2177.34) scale(0.955,1)" text-anchor="end" class="t" style="font-size:28.9px">2</text>
<text transform="translate(107.2,2092.21) scale(0.955,1)" text-anchor="end" class="t" style="font-size:28.9px">3</text>
<text transform="translate(107.2,2007.08) scale(0.955,1)" text-anchor="end" class="t" style="font-size:28.9px">4</text>
<text transform="translate(80.4,2146.6) rotate(-90)" text-anchor="middle" class="t" style="font-size:27.5px">Sessions/week</text>
<line x1="130.15" y1="2338.6" x2="692.75" y2="2338.6" stroke="#000" stroke-width="2.8"/>
<line x1="131.5" y1="2338.6" x2="131.5" y2="2496.4" stroke="#000" stroke-width="2.7"/>
<line x1="411.5" y1="2338.6" x2="411.5" y2="2496.4" stroke="#000" stroke-width="2.7"/>
<line x1="691.4" y1="2338.6" x2="691.4" y2="2496.4" stroke="#000" stroke-width="2.7"/>
<text transform="translate(169,2354.9) rotate(-90) scale(0.97,1)" text-anchor="end" class="t" style="font-size:28.6px">TOTAL</text>
<text transform="translate(224.99,2354.9) rotate(-90) scale(0.97,1)" text-anchor="end" class="t" style="font-size:28.6px">GP1</text>
<text transform="translate(280.98,2354.9) rotate(-90) scale(0.97,1)" text-anchor="end" class="t" style="font-size:28.6px">GP2</text>
<text transform="translate(336.97,2354.9) rotate(-90) scale(0.97,1)" text-anchor="end" class="t" style="font-size:28.6px">SP</text>
<text transform="translate(392.96,2354.9) rotate(-90) scale(0.97,1)" text-anchor="end" class="t" style="font-size:28.6px">CP</text>
<text transform="translate(448.95,2354.9) rotate(-90) scale(0.97,1)" text-anchor="end" class="t" style="font-size:28.6px">TOTAL</text>
<text transform="translate(504.94,2354.9) rotate(-90) scale(0.97,1)" text-anchor="end" class="t" style="font-size:28.6px">GP1</text>
<text transform="translate(560.93,2354.9) rotate(-90) scale(0.97,1)" text-anchor="end" class="t" style="font-size:28.6px">GP2</text>
<text transform="translate(616.92,2354.9) rotate(-90) scale(0.97,1)" text-anchor="end" class="t" style="font-size:28.6px">SP</text>
<text transform="translate(672.91,2354.9) rotate(-90) scale(0.97,1)" text-anchor="end" class="t" style="font-size:28.6px">CP</text>
<text x="271.5" y="2489" text-anchor="middle" class="t">BP</text>
<text x="551.45" y="2489" text-anchor="middle" class="t">TRAD</text>
<line x1="807.5" y1="1956.5" x2="807.5" y2="2339.9" stroke="#000" stroke-width="2.5"/>
<text transform="translate(783.8,2348.9) scale(0.955,1)" text-anchor="end" class="t" style="font-size:28.9px">0</text>
<text transform="translate(783.8,2195.54) scale(0.955,1)" text-anchor="end" class="t" style="font-size:28.9px">1</text>
<text transform="translate(783.8,2042.18) scale(0.955,1)" text-anchor="end" class="t" style="font-size:28.9px">2</text>
<text transform="translate(755.6,2146.9) rotate(-90)" text-anchor="middle" class="t" style="font-size:27.5px">Hours/week</text>
<line x1="806.15" y1="2339.9" x2="1368.25" y2="2339.9" stroke="#000" stroke-width="2.8"/>
<line x1="807.5" y1="2339.9" x2="807.5" y2="2496.8" stroke="#000" stroke-width="2.7"/>
<line x1="1087.1" y1="2339.9" x2="1087.1" y2="2496.8" stroke="#000" stroke-width="2.7"/>
<line x1="1366.9" y1="2339.9" x2="1366.9" y2="2496.8" stroke="#000" stroke-width="2.7"/>
<text transform="translate(844.9,2356.2) rotate(-90) scale(0.97,1)" text-anchor="end" class="t" style="font-size:28.6px">TOTAL</text>
<text transform="translate(900.87,2356.2) rotate(-90) scale(0.97,1)" text-anchor="end" class="t" style="font-size:28.6px">GP1</text>
<text transform="translate(956.84,2356.2) rotate(-90) scale(0.97,1)" text-anchor="end" class="t" style="font-size:28.6px">GP2</text>
<text transform="translate(1012.81,2356.2) rotate(-90) scale(0.97,1)" text-anchor="end" class="t" style="font-size:28.6px">SP</text>
<text transform="translate(1068.78,2356.2) rotate(-90) scale(0.97,1)" text-anchor="end" class="t" style="font-size:28.6px">CP</text>
<text transform="translate(1124.75,2356.2) rotate(-90) scale(0.97,1)" text-anchor="end" class="t" style="font-size:28.6px">TOTAL</text>
<text transform="translate(1180.72,2356.2) rotate(-90) scale(0.97,1)" text-anchor="end" class="t" style="font-size:28.6px">GP1</text>
<text transform="translate(1236.69,2356.2) rotate(-90) scale(0.97,1)" text-anchor="end" class="t" style="font-size:28.6px">GP2</text>
<text transform="translate(1292.66,2356.2) rotate(-90) scale(0.97,1)" text-anchor="end" class="t" style="font-size:28.6px">SP</text>
<text transform="translate(1348.63,2356.2) rotate(-90) scale(0.97,1)" text-anchor="end" class="t" style="font-size:28.6px">CP</text>
<text x="947.3" y="2489.5" text-anchor="middle" class="t">BP</text>
<text x="1227" y="2489.5" text-anchor="middle" class="t">TRAD</text>
<rect x="664.7" y="1917.4" width="12.4" height="11.8" fill="#FF0000" stroke="#000" stroke-width="1.4"/>
<text x="683" y="1932.2" style="font-size:26.0px">HIT</text>
<rect x="742.1" y="1917.4" width="11.7" height="11.8" fill="#FFFF00" stroke="#000" stroke-width="1.4"/>
<text x="760.2" y="1932.2" style="font-size:26.0px">MIT</text>
</svg></body></html>
